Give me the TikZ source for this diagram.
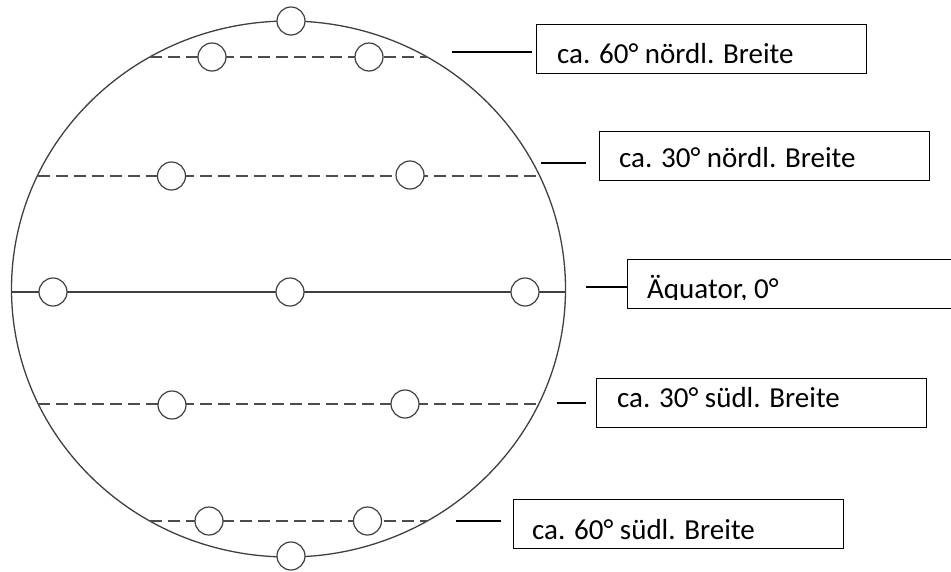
\documentclass[tikz,border=0pt]{standalone}
\usepackage{fontspec}
\setmainfont{Carlito}
\begin{document}
\begin{tikzpicture}[x=1pt,y=-1pt,
  globe/.style={line width=1.3pt, draw=black!75},
  lat/.style={line width=1.2pt, draw=black!70, dash pattern=on 12pt off 6pt},
  equ/.style={line width=1.2pt, draw=black!75},
  dot/.style={circle, draw=black!75, line width=1.2pt, fill=white, minimum size=28pt, inner sep=0pt},
  lbox/.style={draw=black, line width=1.1pt, minimum width=330pt, minimum height=49pt, anchor=north west, inner sep=0pt},
  ltext/.style={anchor=base west, inner sep=0pt, font=\fontsize{29}{34}\selectfont},
  lead/.style={line width=1.1pt, draw=black}]
\useasboundingbox (0,0) rectangle (951,571);
\clip (0,0) rectangle (951,571);
\fill[white] (0,0) rectangle (951,571);
% globe
\draw[globe] (288.5,289) ellipse [x radius=277pt, y radius=268pt];
% latitude lines
\coordinate (l1a) at (149.8,57);  \coordinate (l1b) at (427.2,57);
\coordinate (l2a) at (37.5,176);  \coordinate (l2b) at (539.5,176);
\coordinate (l3a) at (11.5,292);  \coordinate (l3b) at (565.5,292);
\coordinate (l4a) at (38.3,404);  \coordinate (l4b) at (538.7,404);
\coordinate (l5a) at (149.8,521); \coordinate (l5b) at (427.2,521);
\draw[lat] (l1a) -- (l1b);
\draw[lat] (l2a) -- (l2b);
\draw[equ] (l3a) -- (l3b);
\draw[lat] (l4a) -- (l4b);
\draw[lat] (l5a) -- (l5b);
% small circles
\node[dot] (top) at (291,21) {};
\node[dot] (n60a) at (212,57) {};
\node[dot] (n60b) at (369,57) {};
\node[dot] (n30a) at (171.5,176) {};
\node[dot] (n30b) at (410,175) {};
\node[dot] (eqa) at (53,292) {};
\node[dot] (eqb) at (290,292) {};
\node[dot] (eqc) at (525,292) {};
\node[dot] (s30a) at (172,405) {};
\node[dot] (s30b) at (405,404) {};
\node[dot] (s60a) at (209,521) {};
\node[dot] (s60b) at (367.5,521) {};
\node[dot] (bot) at (291,556) {};
% boxes
\node[lbox] (b1) at (536,24) {};
\node[lbox] (b2) at (599,131) {};
\node[lbox] (b3) at (627,259) {};
\node[lbox] (b4) at (596,378) {};
\node[lbox] (b5) at (513,499) {};
\node[ltext] (t1) at (557,63) {ca. 60° nördl. Breite};
\node[ltext] (t2) at (619,167) {ca. 30° nördl. Breite};
\begin{scope}
\clip (627,259) rectangle (951,299.5);
\node[ltext] (t3) at (647,298) {Äquator, 0°};
\end{scope}
\node[ltext] (t4) at (617,407) {ca. 30° südl. Breite};
\node[ltext] (t5) at (532,539) {ca. 60° südl. Breite};
% leaders
\coordinate (c1a) at (452,52);  \coordinate (c1b) at (532,52);
\coordinate (c2a) at (541,163); \coordinate (c2b) at (586,163);
\coordinate (c3a) at (586,287);
\coordinate (c4a) at (557,403); \coordinate (c4b) at (586,403);
\coordinate (c5a) at (456,521); \coordinate (c5b) at (501,521);
\draw[lead] (c1a) -- (c1b);
\draw[lead] (c2a) -- (c2b);
\draw[lead] (c3a) -- (c3a -| b3.west);
\draw[lead] (c4a) -- (c4b);
\draw[lead] (c5a) -- (c5b);
\end{tikzpicture}
\end{document}
